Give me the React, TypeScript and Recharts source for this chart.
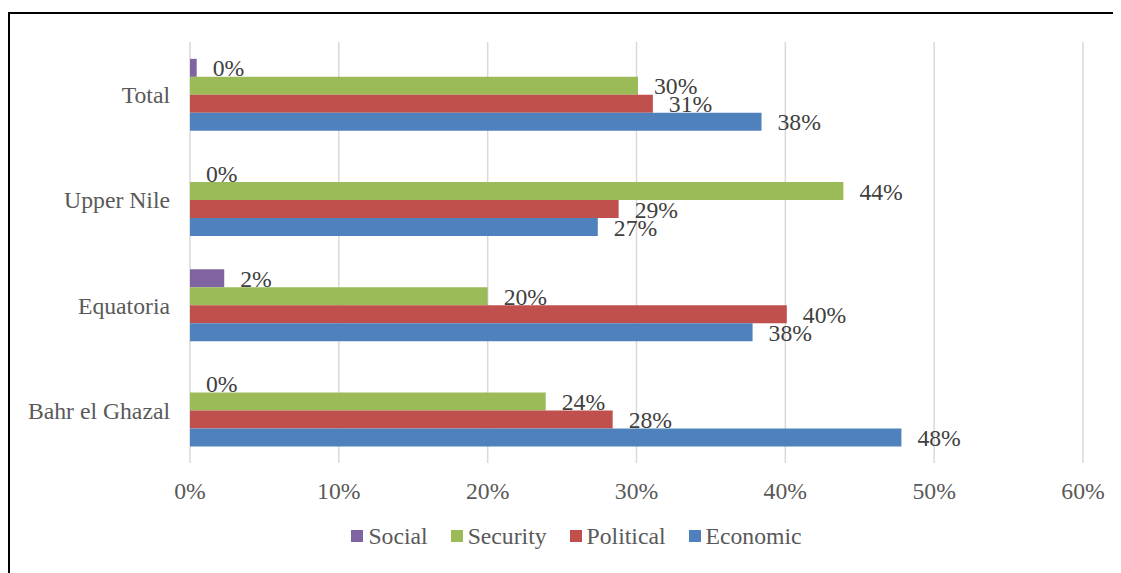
import React from "react";
import {
  BarChart,
  Bar,
  XAxis,
  YAxis,
  CartesianGrid,
  Legend,
  LabelList,
} from "recharts";

const regions = ["Total", "Upper Nile", "Equatoria", "Bahr el Ghazal"];
const social = [0.45, 0, 2.3, 0];
const security = [30.1, 43.9, 20.0, 23.9];
const political = [31.1, 28.8, 40.1, 28.4];
const economic = [38.4, 27.4, 37.8, 47.8];
const xTicks = [0, 10, 20, 30, 40, 50, 60];

const series = [
  { key: "social", name: "Social", color: "#8064A2" },
  { key: "security", name: "Security", color: "#9BBB59" },
  { key: "political", name: "Political", color: "#C0504D" },
  { key: "economic", name: "Economic", color: "#4F81BD" },
];

const data = regions.map((region, i) => ({
  region,
  social: social[i],
  security: security[i],
  political: political[i],
  economic: economic[i],
}));

const FONT = "'Liberation Serif', 'Times New Roman', serif";
const FS = 23.7;
const pct = (v: number) => `${Math.round(v)}%`;

function LegendBox() {
  return (
    <div
      style={{
        display: "flex",
        justifyContent: "center",
        paddingLeft: 55,
        fontFamily: FONT,
        fontSize: FS,
        color: "#595959",
        lineHeight: "28px",
      }}
    >
      {series.map((s) => (
        <div key={s.key} style={{ display: "flex", alignItems: "center", marginRight: 23 }}>
          <span style={{ width: 12, height: 12, background: s.color, marginRight: 5 }} />
          <span>{s.name}</span>
        </div>
      ))}
    </div>
  );
}

export default function App() {
  return (
    <div style={{ position: "relative", width: 1113, height: 565 }}>
      <style>{"html,body{overflow:hidden}"}</style>
      {/* frame: only its top and left edges are inside the picture */}
      <div
        style={{
          position: "absolute",
          left: 0,
          top: 4,
          width: 1111,
          height: 559,
          borderTop: "2px solid #000",
          borderLeft: "2px solid #000",
        }}
      />
      <div style={{ position: "absolute", left: -8, top: -8 }}>
        <BarChart
          width={1121}
          height={573}
          data={data}
          layout="vertical"
          margin={{ top: 42, right: 38, bottom: 70, left: 0 }}
          barCategoryGap="16%"
          barGap={0}
        >
          <CartesianGrid horizontal={false} stroke="#D9D9D9" strokeWidth={1.5} />
          <XAxis
            type="number"
            domain={[0, 60]}
            ticks={xTicks}
            tickFormatter={pct}
            axisLine={false}
            tickLine={false}
            tickMargin={13}
            height={40}
            tick={{ fill: "#595959", fontSize: FS, fontFamily: FONT }}
          />
          <YAxis
            type="category"
            dataKey="region"
            width={190}
            axisLine={false}
            tickLine={false}
            tickMargin={14}
            tick={{ fill: "#595959", fontSize: FS, fontFamily: FONT }}
          />
          <Legend
            layout="horizontal"
            verticalAlign="middle"
            align="center"
            wrapperStyle={{ top: 522, left: 0, width: 1121 }}
            content={() => <LegendBox />}
          />
          {series.map((s) => (
            <Bar
              key={s.key}
              dataKey={s.key}
              name={s.name}
              fill={s.color}
              minPointSize={0.01}
              isAnimationActive={false}
            >
              <LabelList
                dataKey={s.key}
                position="right"
                offset={16}
                formatter={(v: number) => pct(v)}
                style={{ fill: "#404040", fontSize: FS, fontFamily: FONT }}
              />
            </Bar>
          ))}
        </BarChart>
      </div>
    </div>
  );
}
